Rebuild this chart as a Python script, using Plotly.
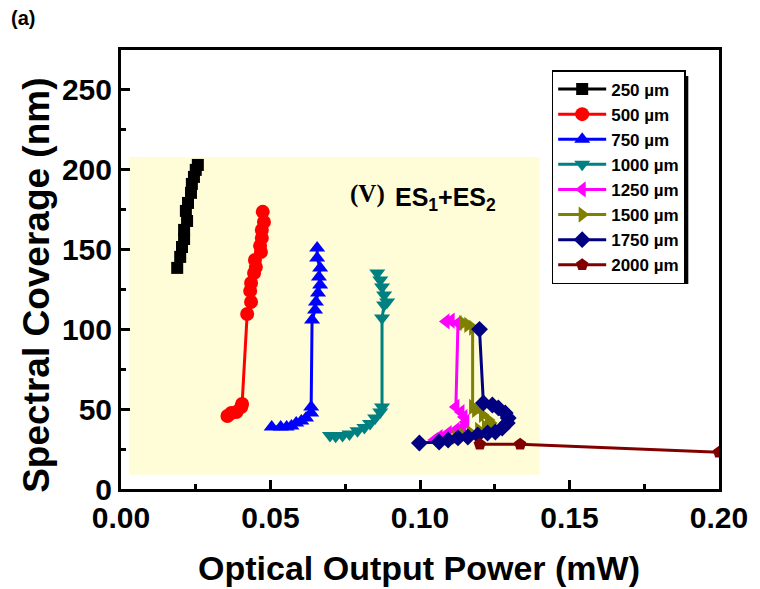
import plotly.graph_objects as go

# Optical output power (mW) and spectral coverage (nm) for each cavity length
p250_x = [0.0188, 0.0198, 0.0204, 0.0211, 0.0211, 0.0221, 0.0217, 0.0224, 0.0234, 0.0237, 0.0244, 0.0250, 0.0257]
p250_y = [138.5, 145.4, 151.6, 156.6, 162.3, 167.9, 174.2, 179.2, 185.5, 191.1, 195.5, 199.9, 203.0]

p500_x = [0.0356, 0.0369, 0.0386, 0.0402, 0.0405, 0.0422, 0.0435, 0.0432, 0.0435, 0.0445, 0.0451, 0.0448,
          0.0468, 0.0465, 0.0471, 0.0471, 0.0478, 0.0474]
p500_y = [45.7, 47.6, 48.2, 51.4, 53.3, 109.6, 117.2, 124.1, 129.1, 135.3, 139.1, 143.5,
          148.5, 152.3, 157.3, 162.3, 167.3, 173.6]

p750_x = [0.0504, 0.0534, 0.0554, 0.0570, 0.0586, 0.0603, 0.0619, 0.0636, 0.0636, 0.0639, 0.0649, 0.0652,
          0.0659, 0.0666, 0.0662, 0.0666, 0.0656, 0.0656]
p750_y = [38.8, 38.8, 38.8, 39.5, 41.4, 42.6, 44.5, 47.6, 51.4, 105.9, 112.2, 117.2,
          122.8, 127.8, 132.8, 138.5, 144.7, 151.0]

p1000_x = [0.0699, 0.0718, 0.0741, 0.0764, 0.0791, 0.0814, 0.0833, 0.0850, 0.0867, 0.0873, 0.0873, 0.0880,
           0.0890, 0.0880, 0.0873, 0.0867, 0.0857]
p1000_y = [33.5, 33.0, 33.5, 34.5, 36.5, 38.5, 41.0, 44.5, 48.2, 51.4, 107.1, 115.3,
           117.2, 121.6, 126.6, 131.0, 135.3]

p1250_x = [0.1048, 0.1064, 0.1094, 0.1120, 0.1143, 0.1153, 0.1147, 0.1137, 0.1120, 0.1127, 0.1104, 0.1087]
p1250_y = [30.7, 32.6, 35.1, 37.0, 38.8, 42.0, 45.1, 48.2, 51.4, 104.0, 105.5, 105.0]

p1500_x = [0.1120, 0.1143, 0.1170, 0.1196, 0.1219, 0.1236, 0.1229, 0.1209, 0.1186, 0.1176, 0.1176, 0.1160, 0.1143]
p1500_y = [32.6, 33.8, 35.1, 37.0, 38.8, 41.4, 43.2, 46.4, 49.5, 51.4, 101.0, 102.8, 104.0]

p1750_x = [0.0998, 0.1064, 0.1094, 0.1127, 0.1160, 0.1193, 0.1226, 0.1252, 0.1275, 0.1292, 0.1295, 0.1285,
           0.1262, 0.1242, 0.1212, 0.1199]
p1750_y = [28.8, 29.4, 30.7, 32.0, 32.6, 33.8, 35.1, 35.7, 38.2, 41.4, 44.5, 47.6,
           50.8, 52.6, 53.9, 100.0]

p2000_x = [0.1200, 0.1335, 0.2000]
p2000_y = [28.0, 28.0, 23.0]

labels = ["250 µm", "500 µm", "750 µm", "1000 µm", "1250 µm", "1500 µm", "1750 µm", "2000 µm"]
colors = ["#000000", "#FF0000", "#0000FF", "#008080", "#FF00FF", "#808000", "#000080", "#800000"]
symbols = ["square", "circle", "triangle-up", "triangle-down", "triangle-left", "triangle-right",
           "diamond", "pentagon"]
sizes = [12, 14, 14, 14, 14, 14, 13, 13]
xs = [p250_x, p500_x, p750_x, p1000_x, p1250_x, p1500_x, p1750_x, p2000_x]
ys = [p250_y, p500_y, p750_y, p1000_y, p1250_y, p1500_y, p1750_y, p2000_y]

# Shaded region for the ES1+ES2 regime
region_x = [0.0026, 0.140]
region_y = [9.0, 208.0]

fig = go.Figure()
for x, y, name, c, s, sz in zip(xs, ys, labels, colors, symbols, sizes):
    fig.add_trace(go.Scatter(
        x=x, y=y, name=name, mode="lines+markers",
        line=dict(color=c, width=3),
        marker=dict(symbol=s, color=c, size=sz, line=dict(width=0)),
    ))

fig.add_shape(type="rect", xref="x", yref="y",
              x0=region_x[0], x1=region_x[1], y0=region_y[0], y1=region_y[1],
              fillcolor="#FEFDD8", line=dict(width=0), layer="below")

# Plot area geometry (px) used to place paper-referenced items
L, R, T, B = 121, 725, 50, 489
W, H = R - L, B - T


def px(xp):
    return (xp - L) / W


def py(yp):
    return (B - yp) / H


# Legend drop shadow
fig.add_shape(type="rect", xref="paper", yref="paper",
              x0=px(562), x1=px(694), y0=py(284), y1=py(76),
              fillcolor="black", line=dict(width=0), layer="above")

axis_font = dict(family="Liberation Sans, Arial", size=30, color="black", weight="bold")
fig.update_layout(
    width=760, height=589,
    margin=dict(l=L, r=760 - R, t=T, b=589 - B),
    paper_bgcolor="white", plot_bgcolor="white",
    showlegend=True,
    legend=dict(x=px(556), y=py(70), xanchor="left", yanchor="top",
                bgcolor="white", bordercolor="black", borderwidth=1.5,
                font=dict(family="Liberation Sans, Arial", size=17, color="black", weight="bold"),
                itemwidth=48, tracegroupgap=0),
    xaxis=dict(range=[0, 0.2], tickvals=[0, 0.05, 0.10, 0.15, 0.20], tickformat=".2f",
               showgrid=False, zeroline=False, showline=True, linecolor="black", linewidth=3,
               mirror=True, ticks="inside", ticklen=9, tickwidth=2.5, tickcolor="black",
               minor=dict(dtick=0.025, ticks="inside", ticklen=5, tickwidth=2.5, tickcolor="black"),
               tickfont=axis_font),
    yaxis=dict(range=[0, 275], tickvals=[0, 50, 100, 150, 200, 250],
               showgrid=False, zeroline=False, showline=True, linecolor="black", linewidth=3,
               mirror=True, ticks="inside", ticklen=9, tickwidth=2.5, tickcolor="black",
               minor=dict(dtick=25, ticks="inside", ticklen=5, tickwidth=2.5, tickcolor="black"),
               tickfont=axis_font),
)

title_font = dict(family="Liberation Sans, Arial", size=34, color="black", weight="bold")
fig.add_annotation(xref="paper", yref="paper", x=px(422), y=py(568), text="Optical Output Power (mW)",
                   showarrow=False, font=title_font, xanchor="center", yanchor="middle")
fig.add_annotation(xref="paper", yref="paper", x=px(35), y=py(285), text="Spectral Coverage (nm)",
                   showarrow=False, font=dict(title_font, size=37), textangle=-90,
                   xanchor="center", yanchor="middle")
fig.add_annotation(xref="paper", yref="paper", x=px(8), y=py(18), text="(a)",
                   showarrow=False, font=dict(family="Liberation Sans, Arial", size=20,
                                              color="black", weight="bold"),
                   xanchor="left", yanchor="middle")

# Regime label
fig.add_annotation(xref="paper", yref="paper", x=px(350), y=py(194), text="(V)",
                   showarrow=False, font=dict(family="Liberation Serif, Times New Roman", size=25,
                                              color="black", weight="bold"),
                   xanchor="left", yanchor="middle")
fig.add_annotation(xref="paper", yref="paper", x=px(396), y=py(199),
                   text="ES<sub>1</sub>+ES<sub>2</sub>",
                   showarrow=False, font=dict(family="Liberation Sans, Arial", size=25,
                                              color="black", weight="bold"),
                   xanchor="left", yanchor="middle")

fig.write_html("out.html")
